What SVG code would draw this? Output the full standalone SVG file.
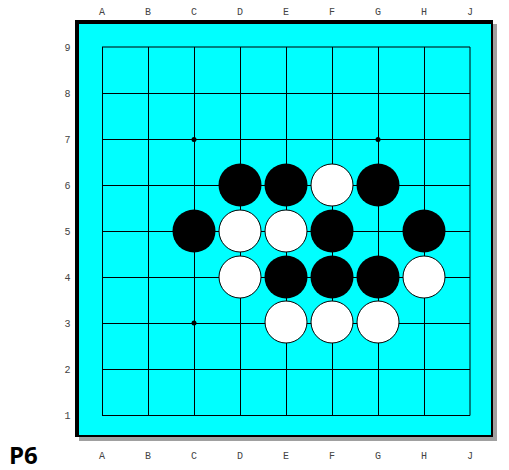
<svg xmlns="http://www.w3.org/2000/svg" width="509" height="470" viewBox="0 0 509 470">
<style>
.lbl{font-family:"Liberation Mono","DejaVu Sans Mono",monospace;font-size:10px;fill:#444;text-anchor:middle}
.grid line{stroke:#000;stroke-width:1}
.b{fill:#000}
.w{fill:#fff;stroke:#000;stroke-width:1}
.star{fill:#000}
</style>
<rect width="509" height="470" fill="#fff"/>
<g id="board">
<rect x="79" y="24" width="418" height="417" fill="#a0a0a0"/>
<rect x="75" y="20" width="418" height="417" fill="#000"/>
<rect x="79" y="24" width="412" height="411" fill="#00ffff"/>
</g>
<g id="grid" class="grid">
<line x1="102.5" y1="47" x2="102.5" y2="415.5"/>
<line x1="148.5" y1="47" x2="148.5" y2="415.5"/>
<line x1="194.5" y1="47" x2="194.5" y2="415.5"/>
<line x1="240.5" y1="47" x2="240.5" y2="415.5"/>
<line x1="286.5" y1="47" x2="286.5" y2="415.5"/>
<line x1="332.5" y1="47" x2="332.5" y2="415.5"/>
<line x1="378.5" y1="47" x2="378.5" y2="415.5"/>
<line x1="424.5" y1="47" x2="424.5" y2="415.5"/>
<line x1="470" y1="47" x2="470" y2="415.5"/>
<line x1="102" y1="47" x2="470" y2="47"/>
<line x1="102" y1="93.5" x2="470" y2="93.5"/>
<line x1="102" y1="139.5" x2="470" y2="139.5"/>
<line x1="102" y1="185.5" x2="470" y2="185.5"/>
<line x1="102" y1="231.5" x2="470" y2="231.5"/>
<line x1="102" y1="277.5" x2="470" y2="277.5"/>
<line x1="102" y1="323.5" x2="470" y2="323.5"/>
<line x1="102" y1="369.5" x2="470" y2="369.5"/>
<line x1="102" y1="415.5" x2="470" y2="415.5"/>
</g>
<g id="stars">
<circle class="star" cx="194" cy="139.5" r="2.5"/>
<circle class="star" cx="378" cy="139.5" r="2.5"/>
<circle class="star" cx="194" cy="323" r="2.5"/>
</g>
<g id="stones">
<circle id="D6" class="b" cx="240" cy="185" r="21.5"/>
<circle id="E6" class="b" cx="286" cy="185" r="21.5"/>
<circle id="F6" class="w" cx="332" cy="185" r="21"/>
<circle id="G6" class="b" cx="378" cy="185" r="21.5"/>
<circle id="C5" class="b" cx="194" cy="231" r="21.5"/>
<circle id="D5" class="w" cx="240" cy="231" r="21"/>
<circle id="E5" class="w" cx="286" cy="231" r="21"/>
<circle id="F5" class="b" cx="332" cy="231" r="21.5"/>
<circle id="H5" class="b" cx="424" cy="231" r="21.5"/>
<circle id="D4" class="w" cx="240" cy="277" r="21"/>
<circle id="E4" class="b" cx="286" cy="277" r="21.5"/>
<circle id="F4" class="b" cx="332" cy="277" r="21.5"/>
<circle id="G4" class="b" cx="378" cy="277" r="21.5"/>
<circle id="H4" class="w" cx="424" cy="277" r="21"/>
<circle id="E3" class="w" cx="286" cy="322" r="21"/>
<circle id="F3" class="w" cx="332" cy="322" r="21"/>
<circle id="G3" class="w" cx="378" cy="322" r="21"/>
</g>
<g id="labels" class="lbl">
<text x="102" y="15">A</text><text x="148" y="15">B</text><text x="194" y="15">C</text><text x="240" y="15">D</text><text x="286" y="15">E</text><text x="332" y="15">F</text><text x="378" y="15">G</text><text x="424" y="15">H</text><text x="470" y="15">J</text>
<text x="102" y="459">A</text><text x="148" y="459">B</text><text x="194" y="459">C</text><text x="240" y="459">D</text><text x="286" y="459">E</text><text x="332" y="459">F</text><text x="378" y="459">G</text><text x="424" y="459">H</text><text x="470" y="459">J</text>
<text x="67.5" y="51">9</text><text x="67.5" y="97">8</text><text x="67.5" y="143">7</text><text x="67.5" y="189">6</text><text x="67.5" y="235">5</text><text x="67.5" y="281">4</text><text x="67.5" y="327">3</text><text x="67.5" y="373">2</text><text x="67.5" y="419">1</text>
</g>
<text id="title" x="9" y="464" font-family="'Open Sans','Noto Sans',sans-serif" font-weight="bold" font-size="24" fill="#000">P6</text>
</svg>
